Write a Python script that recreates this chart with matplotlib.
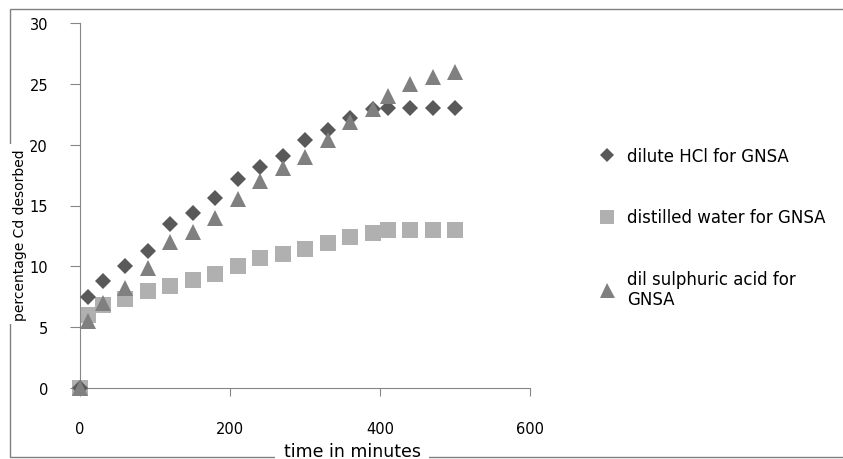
import numpy as np
import matplotlib.pyplot as plt
from matplotlib.patches import Rectangle

# -------------------------------
# data
time_min = [0, 10, 30, 60, 90, 120, 150, 180, 210, 240, 270, 300, 330, 360, 390, 410, 440, 470, 500]
hcl = [0, 7.5, 8.8, 10.0, 11.3, 13.5, 14.4, 15.6, 17.2, 18.2, 19.1, 20.4, 21.2, 22.2, 22.9, 23.0, 23.0, 23.0, 23.0]
water = [0, 6.0, 6.8, 7.3, 8.0, 8.4, 8.9, 9.4, 10.0, 10.7, 11.0, 11.4, 11.9, 12.4, 12.7, 13.0, 13.0, 13.0, 13.0]
h2so4 = [0, 5.5, 7.0, 8.2, 9.9, 12.0, 12.8, 14.0, 15.5, 17.0, 18.1, 19.0, 20.4, 21.9, 22.9, 24.0, 25.0, 25.6, 26.0]
labels = ['dilute HCl for GNSA', 'distilled water for GNSA', 'dil sulphuric acid for\nGNSA']

x_ticks = [0, 200, 400, 600]
y_ticks = [0, 5, 10, 15, 20, 25, 30]

W, H = 843, 460
fig = plt.figure(figsize=(W / 100, H / 100), dpi=100)
ax = fig.add_axes([80 / W, 1 - 389 / H, 450 / W, 365 / H])

ax.plot(time_min, hcl, 'D', color='#595959', ms=8, mew=0, label=labels[0], clip_on=False, zorder=3)
ax.plot(time_min, water, 's', color='#b0b0b0', ms=11, mew=0, label=labels[1], clip_on=False, zorder=2)
ax.plot(time_min, h2so4, '^', color='#808080', ms=12, mew=0, label=labels[2], clip_on=False, zorder=4)

ax.set_xlim(0, 600)
ax.set_ylim(0, 30)
ax.set_xticks(x_ticks)
ax.set_yticks(y_ticks)
for s in ['top', 'right']:
    ax.spines[s].set_visible(False)
for s in ['left', 'bottom']:
    ax.spines[s].set_color('#868686')
ax.tick_params(axis='y', length=7, color='#868686', pad=16, labelsize=10.5)
ax.tick_params(axis='x', length=6, color='#868686', pad=18, labelsize=10.5)

# chart border (right edge lies outside the image), broken by the axis titles
fig.patches.append(Rectangle((10 / W, 2 / H), 850 / W, 448 / H, transform=fig.transFigure,
                             fill=False, ec='#808080', lw=1))
fig.text(352 / W, 1 - 452 / H, 'time in minutes', ha='center', va='center', fontsize=12.5,
         bbox=dict(facecolor='white', edgecolor='none', pad=6))
fig.text(20 / W, 1 - 235 / H, 'percentage Cd desorbed', ha='center', va='center', rotation=90,
         fontsize=10, bbox=dict(facecolor='white', edgecolor='none', pad=3))

fig.legend(loc='upper left', bbox_to_anchor=(575 / W, 1 - 133 / H), frameon=False,
           fontsize=12, labelspacing=2.6, handletextpad=0.2, markerscale=0.9)

plt.savefig('out.png', dpi=100)
